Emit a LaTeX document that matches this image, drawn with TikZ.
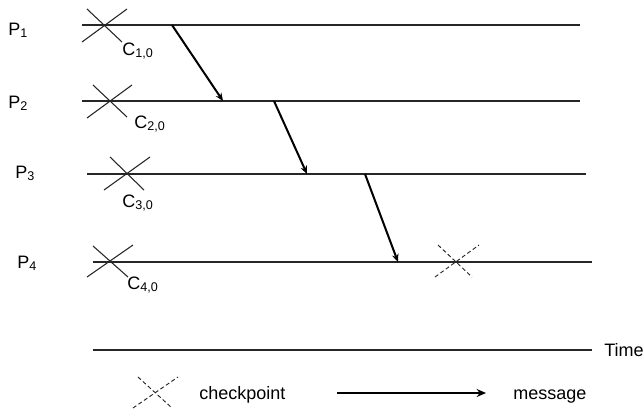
\documentclass[tikz,border=0pt]{standalone}
\usepackage{fontspec}
\setmainfont{Liberation Sans}
\usetikzlibrary{arrows.meta}
\begin{document}
\begin{tikzpicture}[x=0.75pt,y=-0.75pt,
  proc/.style={line width=0.9pt,draw=black!85},
  ckpt/.style={line width=0.8pt,draw=black!85},
  dckpt/.style={line width=0.7pt,draw=black!85,dash pattern=on 3pt off 2pt},
  msg/.style={line width=1.5pt,-{Stealth[length=6pt,width=5pt]}},
  lbl/.style={font=\fontsize{13.5}{15}\selectfont,inner sep=0pt,anchor=base west}]
\useasboundingbox (0,0) rectangle (643,412);
% process lines
\coordinate (p1a) at (82,25);  \coordinate (p1b) at (580,25);
\coordinate (p2a) at (82,101); \coordinate (p2b) at (580,101);
\coordinate (p3a) at (87,174); \coordinate (p3b) at (586,174);
\coordinate (p4a) at (93,262); \coordinate (p4b) at (592,262);
\coordinate (ta) at (93,350);  \coordinate (tb) at (592,350);
\draw[proc] (p1a) -- (p1b);
\draw[proc] (p2a) -- (p2b);
\draw[proc] (p3a) -- (p3b);
\draw[proc] (p4a) -- (p4b);
\draw[proc] (ta) -- (tb);
% process labels
\node[lbl] (P1) at (8,35) {P\textsubscript{1}};
\node[lbl] (P2) at (8,108) {P\textsubscript{2}};
\node[lbl] (P3) at (15,178) {P\textsubscript{3}};
\node[lbl] (P4) at (17,268) {P\textsubscript{4}};
\node[lbl] (T) at (604,356) {Time};
% checkpoints
\draw[ckpt] (82,42) -- (127,9) (87,9) -- (122,42);
\draw[ckpt] (87,118) -- (132,85) (93,85) -- (127,117);
\draw[ckpt] (104,190) -- (150,157) (110,157) -- (144,190);
\draw[ckpt] (87,277) -- (133,245) (93,246) -- (128,277);
\node[lbl] (C1) at (122,55) {C\textsubscript{1,0}};
\node[lbl] (C2) at (134,128) {C\textsubscript{2,0}};
\node[lbl] (C3) at (122,207) {C\textsubscript{3,0}};
\node[lbl] (C4) at (127,289) {C\textsubscript{4,0}};
% dashed checkpoint
\draw[dckpt] (438,245) -- (472,277) (435,277) -- (479,245);
% messages
\coordinate (m1s) at (172,25);  \coordinate (m1e) at (223,101);
\coordinate (m2s) at (274,101); \coordinate (m2e) at (307,174);
\coordinate (m3s) at (365,174); \coordinate (m3e) at (398,262);
\draw[msg] (m1s) -- (m1e);
\draw[msg] (m2s) -- (m2e);
\draw[msg] (m3s) -- (m3e);
% legend
\draw[dckpt] (138,377) -- (172,408) (133,408) -- (178,377);
\node[lbl] (lc) at (199,399) {checkpoint};
\coordinate (la) at (337,393); \coordinate (lb) at (486,393);
\draw[line width=2pt,-{Stealth[length=7pt,width=6pt]}] (la) -- (lb);
\node[lbl] (lm) at (513,399) {message};
\end{tikzpicture}
\end{document}
